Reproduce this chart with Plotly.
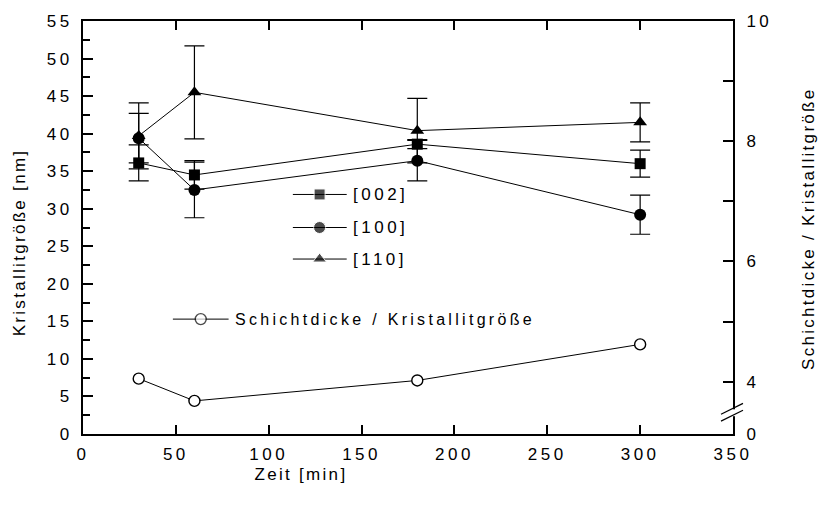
import plotly.graph_objects as go

# ---- data ----
zeit = [30, 60, 180, 300]
k002 = [36.1, 34.5, 38.6, 36.0]
e002 = [2.4, 1.9, 0.6, 1.8]
k100 = [39.4, 32.5, 36.4, 29.2]
e100 = [3.3, 3.7, 2.7, 2.6]
k110 = [39.7, 45.5, 40.4, 41.5]
e110 = [4.4, 6.2, 4.3, 2.6]
ratio = [4.05, 3.68, 4.02, 4.62]

series_names = ["[002]", "[100]", "[110]"]
ratio_name = "Schichtdicke / Kristallitgröße"

x_ticks = [0, 50, 100, 150, 200, 250, 300, 350]
y_ticks = [0, 5, 10, 15, 20, 25, 30, 35, 40, 45, 50, 55]
y2_bottom = 3.129
y2_tickvals = [y2_bottom, 4, 5, 6, 7, 8, 9, 10]
y2_ticktext = ["0", "4", "", "6", "", "8", "", "10"]

# in-plot legend samples (data coordinates)
legend_x = [113, 127.4, 142]
legend_y = [31.9, 27.5, 23.3]
legend_text_x = 144.5
ratio_legend_x = [48.4, 63.4, 78.4]
ratio_legend_y = 15.3
ratio_legend_text_x = 80.5

FONT = "Liberation Sans, Arial, sans-serif"
symbols = ["square", "circle", "triangle-up"]
sizes = [11, 12, 12]
vals = [k002, k100, k110]
errs = [e002, e100, e110]

fig = go.Figure()
for v, e, s, sz, n in zip(vals, errs, symbols, sizes, series_names):
    fig.add_trace(go.Scatter(
        x=zeit, y=v, mode="lines+markers", name=n, showlegend=False,
        line=dict(color="black", width=1),
        marker=dict(symbol=s, size=sz, color="black"),
        error_y=dict(type="data", array=e, color="black", thickness=1.2, width=10),
    ))

fig.add_trace(go.Scatter(
    x=zeit, y=ratio, mode="lines+markers", name=ratio_name, yaxis="y2", showlegend=False,
    line=dict(color="black", width=1),
    marker=dict(symbol="circle", size=11, color="white", line=dict(color="black", width=1.4)),
))

# legend samples
for ly, s, sz in zip(legend_y, symbols, sizes):
    fig.add_trace(go.Scatter(
        x=legend_x, y=[ly] * 3, mode="lines+markers", showlegend=False, hoverinfo="skip",
        line=dict(color="black", width=1),
        marker=dict(symbol=s, size=[0, sz, 0], color="black"),
    ))
fig.add_trace(go.Scatter(
    x=ratio_legend_x, y=[ratio_legend_y] * 3, mode="lines+markers", showlegend=False, hoverinfo="skip",
    line=dict(color="black", width=1),
    marker=dict(symbol="circle", size=[0, 11, 0], color="white", line=dict(color="black", width=1.4)),
))

W, H = 823, 508
L, R, T, B = 83, 90, 16, 74
pw, ph = W - L - R, H - T - B

def px(xp):
    return (xp - L) / pw

def py(yp):
    return (H - B - yp) / ph

annotations = [
    dict(text="Zeit [min]", xref="paper", yref="paper", x=px(301), y=py(475),
         xanchor="center", yanchor="middle", showarrow=False, font=dict(size=17)),
    dict(text="Kristallitgröße [nm]", xref="paper", yref="paper", x=px(19), y=py(240),
         xanchor="center", yanchor="middle", showarrow=False, textangle=-90, font=dict(size=17)),
    dict(text=ratio_name, xref="paper", yref="paper", x=px(808), y=py(226),
         xanchor="center", yanchor="middle", showarrow=False, textangle=-90, font=dict(size=17)),
]
for ly, n in zip(legend_y, series_names):
    annotations.append(dict(text=n, x=legend_text_x, y=ly, xref="x", yref="y",
                            xanchor="left", yanchor="middle", align="left", showarrow=False,
                            font=dict(size=17)))
annotations.append(dict(text=ratio_name, x=ratio_legend_text_x, y=ratio_legend_y, xref="x", yref="y",
                        xanchor="left", yanchor="middle", align="left", showarrow=False,
                        font=dict(size=16)))

shapes = [
    dict(type="rect", xref="paper", yref="paper", x0=px(729), x1=px(737), y0=py(416), y1=py(409),
         fillcolor="white", line=dict(width=0), layer="above"),
    dict(type="line", xref="paper", yref="paper", x0=px(721), y0=py(421), x1=px(743), y1=py(410),
         line=dict(color="black", width=1.2), layer="above"),
    dict(type="line", xref="paper", yref="paper", x0=px(721), y0=py(414), x1=px(743), y1=py(403),
         line=dict(color="black", width=1.2), layer="above"),
]

axis_common = dict(showgrid=False, zeroline=False, showline=True, linecolor="black", linewidth=2,
                   ticks="inside", tickcolor="black", tickwidth=1.5,
                   tickfont=dict(size=17, color="black", family=FONT))

fig.update_layout(
    width=W, height=H,
    margin=dict(l=L, r=R, t=T, b=B, pad=0),
    paper_bgcolor="white", plot_bgcolor="white",
    font=dict(family=FONT, color="black"),
    xaxis=dict(range=[0, 350], tickvals=x_ticks, ticklen=9, mirror="ticks",
               ticklabelstandoff=4, **axis_common),
    yaxis=dict(range=[0, 55], tickvals=y_ticks, ticklen=10, ticklabelstandoff=5,
               minor=dict(dtick=2.5, ticks="inside", ticklen=7, tickwidth=1.5, tickcolor="black"),
               **axis_common),
    yaxis2=dict(range=[y2_bottom, 10], overlaying="y", side="right", anchor="x",
                tickvals=y2_tickvals, ticktext=y2_ticktext, ticklen=10, ticklabelstandoff=8,
                **axis_common),
    annotations=annotations,
    shapes=shapes,
    showlegend=False,
)

css = (
    "g.xtick text, g.ytick text, g.y2tick text {letter-spacing:3.5px;}"
    "g.annotation[data-index='0'] text, g.annotation[data-index='1'] text,"
    "g.annotation[data-index='2'] text {letter-spacing:2.3px;}"
    "g.annotation[data-index='3'] text, g.annotation[data-index='4'] text,"
    "g.annotation[data-index='5'] text {letter-spacing:3.5px;}"
    "g.annotation[data-index='6'] text {letter-spacing:3.3px;}"
)
post = "var s=document.createElement('style');s.textContent=\"" + css + "\";document.head.appendChild(s);"

fig.write_html("out.html", post_script=post, config={"displayModeBar": False})
